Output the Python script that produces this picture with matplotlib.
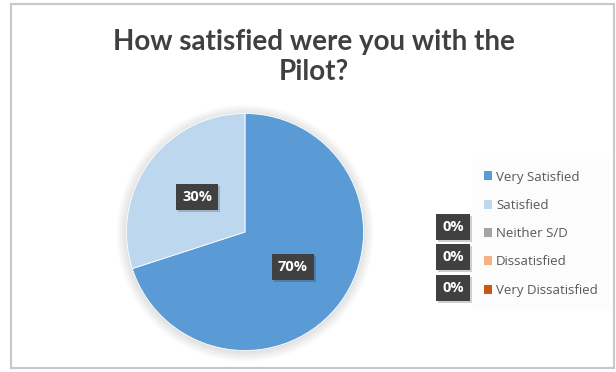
import numpy as np
import matplotlib.pyplot as plt
from matplotlib.patches import Patch, Circle, Rectangle
import matplotlib.patheffects as pe

categories = ['Very Satisfied', 'Satisfied', 'Neither S/D', 'Dissatisfied', 'Very Dissatisfied']
values = [70, 30, 0, 0, 0]
colors = ['#5b9bd5', '#bdd7ee', '#a5a5a5', '#f4b183', '#c55a11']
title = 'How satisfied were you with the\nPilot?'

W, H = 616, 372
fig = plt.figure(figsize=(W / 100, H / 100), dpi=100)
fig.patch.set_facecolor('white')

# outer chart frame
fig.add_artist(Rectangle((11 / W, 4 / H), 603 / W, 364 / H, transform=fig.transFigure,
                         facecolor='none', edgecolor='#c9c9c9', lw=1.6))

fig.text(314 / W, 1 - 57 / H, title, ha='center', va='center', fontsize=20,
         fontweight='bold', family='Lato', color='#404040', linespacing=1.2)

# pie axes, centre (245, 232) px, radius ~118 px
cx, cy, r = 245, 232, 118.5
ax = fig.add_axes([(cx - r) / W, 1 - (cy + r) / H, 2 * r / W, 2 * r / H])

wedges, _ = ax.pie([v for v in values if v > 0], colors=[c for c, v in zip(colors, values) if v > 0],
                   startangle=90, counterclock=False, radius=1,
                   wedgeprops=dict(edgecolor='white', linewidth=0.6))
for w in wedges:
    w.set_zorder(2)
ax.set_xlim(-1, 1)
ax.set_ylim(-1, 1)
ax.axis('off')

# soft shadow behind the pie
for i in range(8):
    ax.add_patch(Circle((0.0, -0.01), 1.0 + 0.012 * i, color='black', alpha=0.015, lw=0,
                        zorder=0, clip_on=False))

label_pos = []
start = 90
for v in values:
    if v > 0:
        mid = np.deg2rad(start - 360 * v / 100 / 2)
        label_pos.append((0.5 * np.cos(mid), 0.5 * np.sin(mid)))
        start -= 360 * v / 100

box = dict(boxstyle='square,pad=0.42', facecolor='#404040', edgecolor='none')
shadow = [pe.SimplePatchShadow(offset=(1.5, -1.5), alpha=0.2), pe.Normal()]


def data_label(t):
    t.get_bbox_patch().set_path_effects(shadow)


nonzero = [v for v in values if v > 0]
for v, (x, y) in zip(nonzero, label_pos):
    t = ax.text(x, y, f'{v}%', ha='center', va='center', fontsize=10.5, fontweight='bold',
                family='Open Sans', color='white', bbox=box, zorder=5)
    data_label(t)

# zero-value labels sit beside the legend
zero_y = [227, 257, 288]
for v, y in zip([v for v in values if v == 0], zero_y):
    t = fig.text(453 / W, 1 - y / H, f'{v}%', ha='center', va='center', fontsize=10.5,
                 fontweight='bold', family='Open Sans', color='white', bbox=box)
    data_label(t)

handles = [Patch(facecolor=c, edgecolor='none', label=l) for c, l in zip(colors, categories)]
leg = fig.legend(handles=handles, loc='upper left', bbox_to_anchor=(469 / W, 1 - 156 / H),
                 frameon=True, handlelength=0.65, handleheight=0.65,
                 handletextpad=0.3, labelspacing=1.16, borderpad=0.6,
                 prop=dict(family='Open Sans', size=9.5))
leg.get_frame().set_facecolor('#fcfcfc')
leg.get_frame().set_edgecolor('none')
leg.get_frame().set_boxstyle('square')
for t in leg.get_texts():
    t.set_color('#595959')

fig.savefig('out.png', dpi=100)
